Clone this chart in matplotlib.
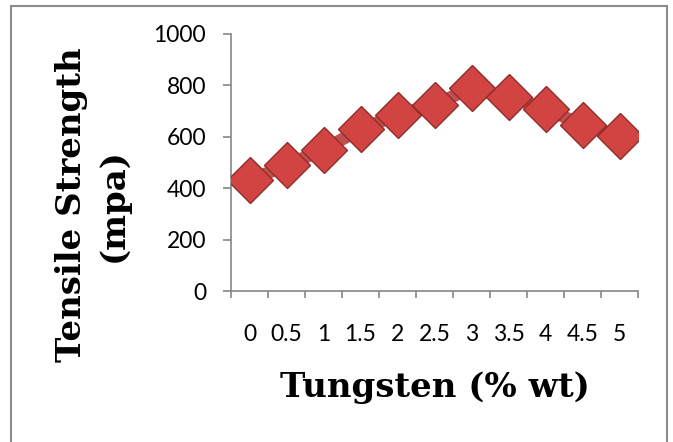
import matplotlib.pyplot as plt
from matplotlib.patches import Rectangle

tungsten = ['0', '0.5', '1', '1.5', '2', '2.5', '3', '3.5', '4', '4.5', '5']
strength = [430, 490, 550, 630, 685, 725, 790, 755, 710, 645, 605]
y_ticks = [0, 200, 400, 600, 800, 1000]

W, H = 673, 442
fig = plt.figure(figsize=(W / 100, H / 100), dpi=100)

# outer chart border (bottom edge runs off the image)
fig.patches.append(Rectangle((11 / W, -0.05), 656 / W, 1.05 - 5.5 / H,
                             transform=fig.transFigure, fill=False,
                             edgecolor='#8c8c8c', linewidth=1.5))

ax = fig.add_axes([231 / W, 1 - 291 / H, 407 / W, 257 / H])
x = range(len(tungsten))
ax.plot(x, strength, color='#c0504d', linewidth=9, solid_capstyle='butt', zorder=2)
ax.plot(x, strength, linestyle='none', marker='D', markersize=23,
        markerfacecolor='#d24441', markeredgecolor='#8e2d2b',
        markeredgewidth=1.0, zorder=3)

ax.set_xlim(-0.5, len(tungsten) - 0.5)
ax.set_ylim(0, 1000)
ax.set_yticks(y_ticks)
ax.set_xticks(x)
ax.set_xticklabels(tungsten)
ax.set_xticks([i - 0.5 for i in range(len(tungsten) + 1)], minor=True)
ax.tick_params(axis='x', which='major', length=0, pad=24, labelsize=16.5)
ax.tick_params(axis='x', which='minor', length=5, color='#868686', width=1.2)
ax.tick_params(axis='y', length=6, color='#868686', width=1.2, pad=12, labelsize=16.5)
for lab in ax.get_xticklabels() + ax.get_yticklabels():
    lab.set_fontfamily('Lato')

for s in ['top', 'right']:
    ax.spines[s].set_visible(False)
for s in ['left', 'bottom']:
    ax.spines[s].set_color('#868686')
    ax.spines[s].set_linewidth(1.2)

fig.text(435 / W, 1 - 387 / H, 'Tungsten (% wt)', ha='center', va='center',
         fontsize=24.5, fontweight='bold', fontfamily='DejaVu Serif')
fig.text(92.5 / W, 1 - 205 / H, 'Tensile Strength\n(mpa)', ha='center', va='center',
         rotation=90, fontsize=24.5, fontweight='bold', fontfamily='DejaVu Serif',
         linespacing=1.35)

fig.savefig('out.png', dpi=100)
